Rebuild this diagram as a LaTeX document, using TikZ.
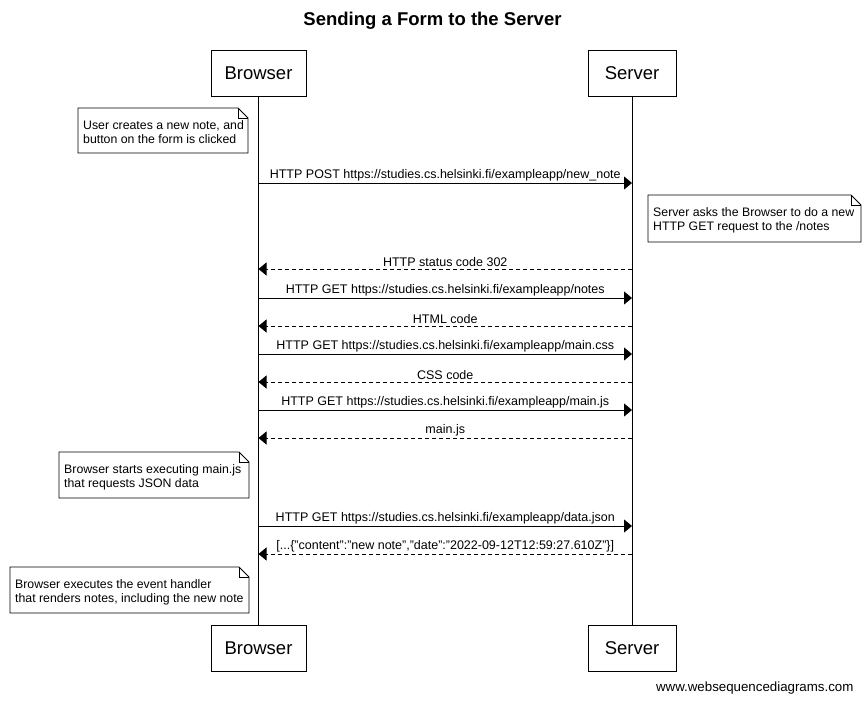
\documentclass[tikz,border=0pt]{standalone}
\usepackage{fontspec}
\setmainfont{Liberation Sans}
\usetikzlibrary{arrows.meta}
\tikzset{
  actor/.style={draw, line width=0.8pt, minimum width=95pt, minimum height=46pt, inner sep=0pt, font=\fontsize{18.5}{20}\selectfont},
  lifeline/.style={line width=0.8pt},
  msgtext/.style={font=\fontsize{12.5}{14}\selectfont, inner sep=1pt, anchor=south},
  req/.style={line width=0.8pt, -{Triangle[length=8pt,width=13pt]}},
  resp/.style={line width=0.8pt, dash pattern=on 4pt off 3pt, -{Triangle[length=8pt,width=13pt]}},
  notetext/.style={font=\fontsize{12.3}{14.5}\selectfont, align=left, anchor=north west, inner sep=0pt},
  noteline/.style={line width=0.8pt, fill=white},
}
\newcommand{\notebox}[5]{% x1,y1,x2,y2,name
  \draw[noteline] (#1,#2) -- (#3-10,#2) -- (#3,#2+10) -- (#3,#4) -- (#1,#4) -- cycle;
  \draw[line width=0.6pt] (#3-10,#2) -- (#3-10,#2+10) -- (#3,#2+10);
  \coordinate (#5) at (#1+5,#2+12);
}
\begin{document}
\begin{tikzpicture}[x=1pt,y=-1pt]
\useasboundingbox (0,0) rectangle (865,703);
\node[font=\bfseries\fontsize{18.5}{20}\selectfont] (title) at (432.5,21) {Sending a Form to the Server};

\node[actor, minimum width=95pt] (bt) at (258.5,73) {Browser};
\node[actor, minimum width=88pt] (st) at (632,73) {Server};
\node[actor, minimum width=95pt] (bb) at (258.5,648) {Browser};
\node[actor, minimum width=88pt] (sb) at (632,648) {Server};
\draw[lifeline] (bt.south) -- (bb.north);
\draw[lifeline] (st.south) -- (sb.north);

% note 1
\notebox{78}{108}{248}{153}{n1}
\node[notetext] (n1t) at (n1) {User creates a new note, and\\button on the form is clicked};

% messages
\foreach \y/\n in {183/1,269/2,298/3,326/4,354/5,382/6,410/7,438/8,526/9,554/10}{
  \coordinate (b\n) at (258.5,\y);
  \coordinate (s\n) at (632,\y);
}
\draw[req] (b1) -- (s1) node[msgtext, midway, yshift=0.5pt] (m1) {HTTP POST https://studies.cs.helsinki.fi/exampleapp/new\_note};

\notebox{648}{195}{861}{242}{n2}
\node[notetext] (n2t) at (n2) {Server asks the Browser to do a new\\HTTP GET request to the /notes};

\draw[resp] (s2) -- (b2) node[msgtext, midway, yshift=0.5pt] (m2) {HTTP status code 302};
\draw[req] (b3) -- (s3) node[msgtext, midway, yshift=0.5pt] (m3) {HTTP GET https://studies.cs.helsinki.fi/exampleapp/notes};
\draw[resp] (s4) -- (b4) node[msgtext, midway, yshift=0.5pt] (m4) {HTML code};
\draw[req] (b5) -- (s5) node[msgtext, midway, yshift=0.5pt] (m5) {HTTP GET https://studies.cs.helsinki.fi/exampleapp/main.css};
\draw[resp] (s6) -- (b6) node[msgtext, midway, yshift=0.5pt] (m6) {CSS code};
\draw[req] (b7) -- (s7) node[msgtext, midway, yshift=0.5pt] (m7) {HTTP GET https://studies.cs.helsinki.fi/exampleapp/main.js};
\draw[resp] (s8) -- (b8) node[msgtext, midway, yshift=0.5pt] (m8) {main.js};

\notebox{59}{452}{249}{498}{n3}
\node[notetext] (n3t) at (n3) {Browser starts executing main.js\\that requests JSON data};

\draw[req] (b9) -- (s9) node[msgtext, midway, yshift=0.5pt] (m9) {HTTP GET https://studies.cs.helsinki.fi/exampleapp/data.json};
\draw[resp] (s10) -- (b10) node[msgtext, midway, yshift=0.5pt] (m10) {[...\{"content":"new note","date":"2022-09-12T12:59:27.610Z"\}]};

\notebox{10}{567}{249}{613}{n4}
\node[notetext] (n4t) at (n4) {Browser executes the event handler\\that renders notes, including the new note};

\node[font=\fontsize{13.3}{15}\selectfont, anchor=east] (footer) at (857,688) {www.websequencediagrams.com};
\end{tikzpicture}
\end{document}
